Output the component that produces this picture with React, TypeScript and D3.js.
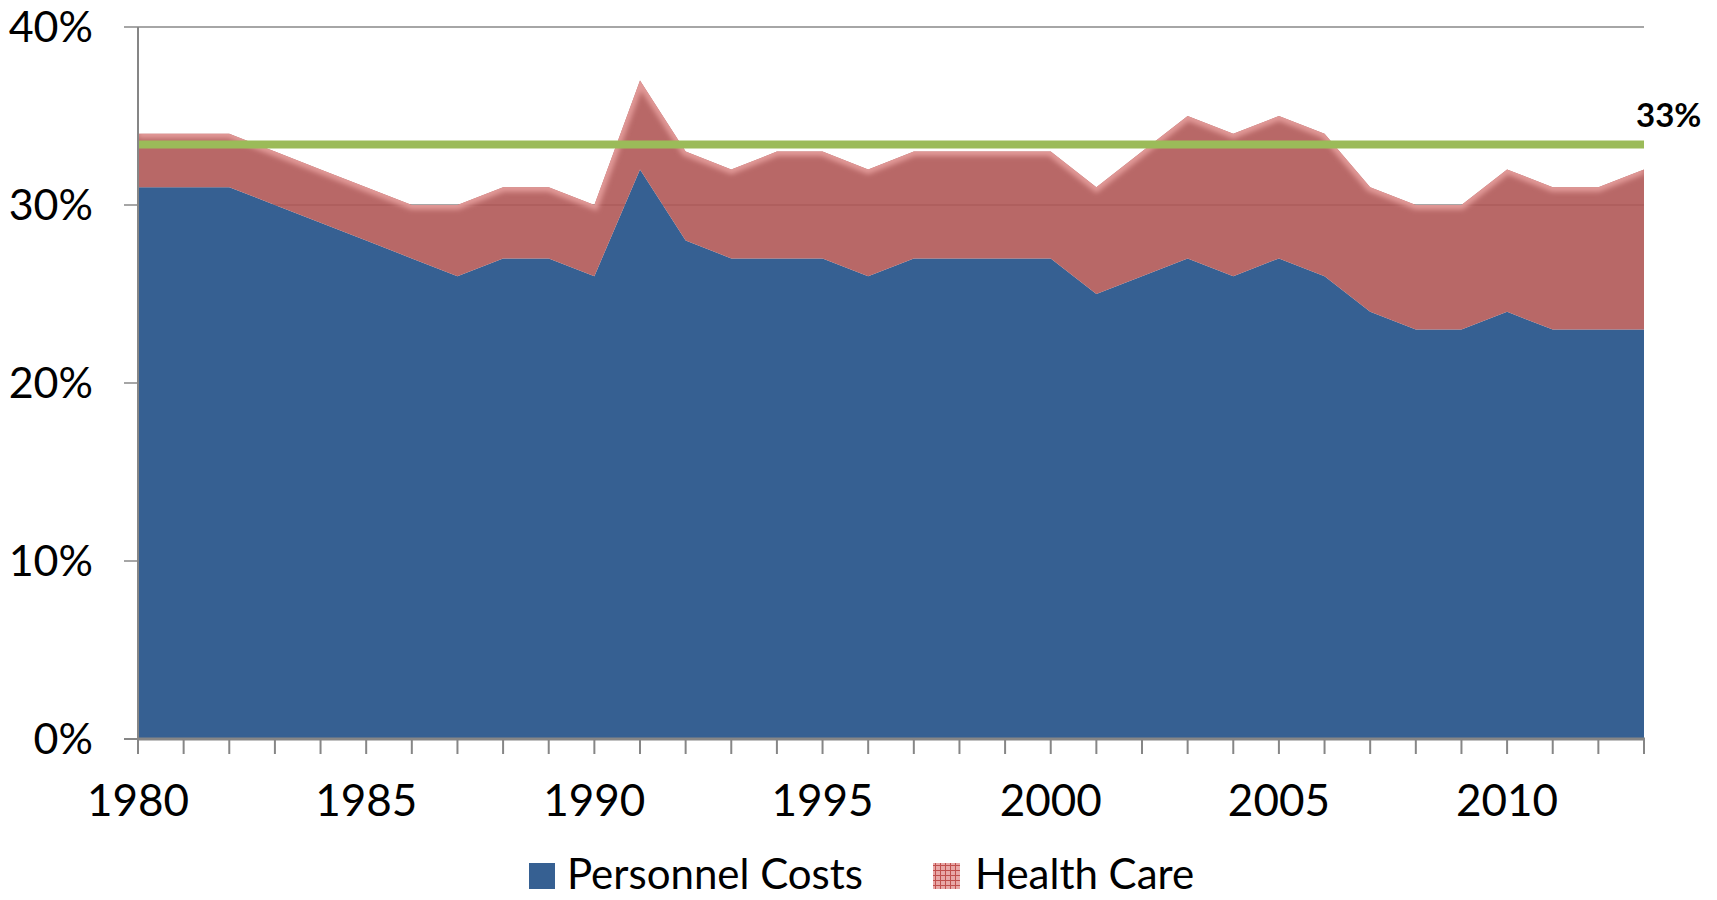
import * as d3 from "d3";

const years = [1980, 1981, 1982, 1983, 1984, 1985, 1986, 1987, 1988, 1989, 1990, 1991, 1992, 1993, 1994, 1995, 1996, 1997, 1998, 1999, 2000, 2001, 2002, 2003, 2004, 2005, 2006, 2007, 2008, 2009, 2010, 2011, 2012, 2013];
const personnelCosts = [31, 31, 31, 30, 29, 28, 27, 26, 27, 27, 26, 32, 28, 27, 27, 27, 26, 27, 27, 27, 27, 25, 26, 27, 26, 27, 26, 24, 23, 23, 24, 23, 23, 23];
const healthCare = [3, 3, 3, 3, 3, 3, 3, 4, 4, 4, 4, 5, 5, 5, 6, 6, 6, 6, 6, 6, 6, 6, 7, 8, 8, 8, 8, 7, 7, 7, 8, 8, 8, 9];
const yTicks = [0, 10, 20, 30, 40];
const xLabels = [1980, 1985, 1990, 1995, 2000, 2005, 2010];
const threshold = 33.4;
const thresholdLabel = "33%";
const legendItems = ["Personnel Costs", "Health Care"];

const width = 1717;
const height = 900;
const marginLeft = 138;
const marginRight = 73;
const marginTop = 27;
const marginBottom = 161;
const font = "Lato, 'Open Sans', sans-serif";

export default function App() {
  const rows = years.map((year, i) => ({ year, pc: personnelCosts[i], hc: healthCare[i] }));
  const x = d3.scaleLinear([years[0], years[years.length - 1]], [marginLeft, width - marginRight]);
  const y = d3.scaleLinear([0, 40], [height - marginBottom, marginTop]);

  const blueArea = d3.area<any>().x((d) => x(d.year)).y0(y(0)).y1((d) => y(d.pc));
  const redArea = d3.area<any>().x((d) => x(d.year)).y0((d) => y(d.pc)).y1((d) => y(d.pc + d.hc));
  const topLine = d3.line<any>().x((d) => x(d.year)).y((d) => y(d.pc + d.hc));

  const x0 = x.range()[0];
  const x1 = x.range()[1];
  const yBase = y(0);

  return (
    <svg width={width} height={height} style={{ position: "absolute", left: 0, top: 0, background: "#fff" }}>
      <defs>
        <clipPath id="redClip">
          <path d={redArea(rows) || ""} />
        </clipPath>
        <filter id="soft" x="-5%" y="-50%" width="110%" height="200%">
          <feGaussianBlur stdDeviation="2.5" />
        </filter>
        <pattern id="hcPattern" width="5" height="5" patternUnits="userSpaceOnUse">
          <rect width="5" height="5" fill="#E8A7A6" />
          <path d="M0 0.5H5M0.5 0V5" stroke="#C0504D" strokeWidth="1" />
        </pattern>
      </defs>

      {/* grid */}
      <g>
        {yTicks.filter((t) => t > 0).map((t) => (
          <line key={t} x1={x0 - 14} x2={x1} y1={y(t)} y2={y(t)} stroke="#A6A6A6" strokeWidth={2} />
        ))}
      </g>

      {/* areas */}
      <path d={blueArea(rows) || ""} fill="#366092" />
      <path d={redArea(rows) || ""} fill="#B05856" fillOpacity={0.9} />
      <g clipPath="url(#redClip)">
        <path d={topLine(rows) || ""} fill="none" stroke="#E29A98" strokeWidth={9} filter="url(#soft)" />
      </g>

      {/* threshold */}
      <line x1={x0} x2={x1} y1={y(threshold)} y2={y(threshold)} stroke="#9BBB59" strokeWidth={8} />
      <text x={x1 - 8} y={y(threshold) - 17} fontFamily={font} fontWeight="bold" fontSize={33} fill="#000">
        {thresholdLabel}
      </text>

      {/* y axis */}
      <line x1={x0} x2={x0} y1={y(40)} y2={yBase} stroke="#868686" strokeWidth={2} />
      <line x1={x0 - 14} x2={x0} y1={yBase} y2={yBase} stroke="#868686" strokeWidth={2} />
      {yTicks.map((t) => (
        <text key={t} x={93} y={y(t)} dy="0.36em" textAnchor="end" fontFamily={font} fontSize={43} fill="#000">
          {t}%
        </text>
      ))}

      {/* x axis */}
      <line x1={x0 - 1} x2={x1 + 1} y1={yBase} y2={yBase} stroke="#868686" strokeWidth={3} />
      {years.map((yr) => (
        <line key={yr} x1={x(yr)} x2={x(yr)} y1={yBase} y2={yBase + 15} stroke="#868686" strokeWidth={2} />
      ))}
      {xLabels.map((yr) => (
        <text key={yr} x={x(yr)} y={816} textAnchor="middle" fontFamily={font} fontSize={44} fill="#000">
          {yr}
        </text>
      ))}

      {/* legend */}
      <rect x={529} y={863} width={26} height={26} fill="#366092" />
      <text x={567} y={889} fontFamily={font} fontSize={42} fill="#000">{legendItems[0]}</text>
      <rect x={933} y={863} width={27} height={26} fill="url(#hcPattern)" />
      <text x={975} y={889} fontFamily={font} fontSize={42} fill="#000">{legendItems[1]}</text>
    </svg>
  );
}
